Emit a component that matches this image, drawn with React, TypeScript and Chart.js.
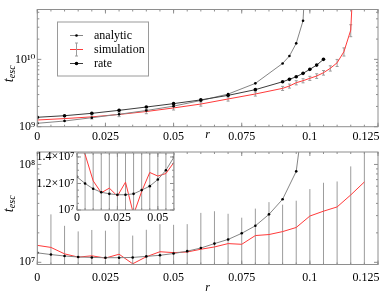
import React, { useEffect, useRef } from 'react';
import { Chart, registerables } from 'chart.js';

Chart.register(...registerables);

const SERIF = "'Liberation Serif', 'Times New Roman', 'DejaVu Serif', serif";

// ---------------- top panel data ----------------
const rTop = [0, 0.01, 0.02, 0.03, 0.04, 0.05, 0.06, 0.07, 0.08, 0.09, 0.0925, 0.095, 0.0975, 0.1, 0.1025, 0.105, 0.1075, 0.11, 0.1125, 0.115, 0.1175];
const analyticTop = [1.123e9, 1.215e9, 1.36e9, 1.53e9, 1.74e9, 2.02e9, 2.45e9, 3.05e9, 4.4e9, 8.7e9, 1.12e10, 1.73e10, 3.74e10, 3.0e12, null, null, null, null, null, null, null];
const rateTop = [1.38e9, 1.456e9, 1.58e9, 1.75e9, 1.96e9, 2.2e9, 2.5e9, 2.92e9, 3.55e9, 4.65e9, 5.05e9, 5.52e9, 6.2e9, 7.11e9, 8.22e9, 1.0e10, null, null, null, null, null];
const simTop = [1.257e9, 1.32e9, 1.4e9, 1.52e9, 1.68e9, 1.9e9, 2.17e9, 2.58e9, 3.06e9, 3.71e9, 4.02e9, 4.5e9, 4.82e9, 5.23e9, 5.66e9, 6.33e9, 7.36e9, 8.9e9, 1.3e10, 2.72e10, 3.0e12];
const simTopErr = [0.09e9, 0.09e9, 0.1e9, 0.11e9, 0.12e9, 0.13e9, 0.15e9, 0.18e9, 0.21e9, 0.26e9, 0.28e9, 0.32e9, 0.34e9, 0.37e9, 0.45e9, 0.5e9, 0.66e9, 1.07e9, 1.8e9, 5.5e9, 0];

// ---------------- bottom panel data ----------------
const rBottom = [0, 0.005, 0.01, 0.015, 0.02, 0.025, 0.03, 0.035, 0.04, 0.045, 0.05, 0.055, 0.06, 0.065, 0.07, 0.075, 0.08, 0.085, 0.09, 0.095, 0.1, 0.105, 0.11, 0.115, 0.12];
const analyticBottom = [1.25e7, 1.2e7, 1.16e7, 1.134e7, 1.122e7, 1.115e7, 1.115e7, 1.122e7, 1.15e7, 1.18e7, 1.23e7, 1.3e7, 1.4e7, 1.553e7, 1.713e7, 1.979e7, 2.36e7, 3.09e7, 4.41e7, 8.5e7, 1.0e9, null, null, null, null];
const simBottom = [1.49e7, 1.42e7, 1.22e7, 1.13e7, 1.165e7, 1.105e7, 1.21e7, 0.966e7, 1.14e7, 1.283e7, 1.256e7, 1.275e7, 1.36e7, 1.436e7, 1.553e7, 1.528e7, 1.877e7, 1.922e7, 2.06e7, 2.27e7, 2.97e7, 3.33e7, 3.68e7, 4.88e7, 6.62e7];
const simBottomErr = [1.51e7, 1.67e7, 1.14e7, 0.94e7, 0.975e7, 1.0e7, 1.44e7, 0.91e7, 1.01e7, 1.17e7, 1.16e7, 1.18e7, 1.84e7, 1.89e7, 1.58e7, 1.33e7, 1.66e7, 2.2e7, 1.82e7, 1.99e7, 2.63e7, 3.17e7, 3.02e7, 4.67e7, 8.4e7];

// ---------------- ticks / labels ----------------
const xTicks = [0, 0.025, 0.05, 0.075, 0.1, 0.125];
const xTickLabels = ['0', '0.025', '0.05', '0.075', '0.1', '0.125'];
const topYTicks = [1e9, 1e10];
const topYLabels = ['10⁹', '10¹⁰'];
const bottomYTicks = [1e7, 1e8];
const bottomYLabels = ['10⁷', '10⁸'];
const insetXTicks = [0, 0.025, 0.05];
const insetXLabels = ['0', '0.025', '0.05'];
const insetYTicks = [1.0e7, 1.2e7, 1.4e7];
const insetYLabels = ['10⁷', '1.2×10⁷', '1.4×10⁷'];
const legendLabels = ['analytic', 'simulation', 'rate'];
const xTitle = 'r';

const COL_ANALYTIC = '#858585';
const COL_RATE = '#3c3c3c';
const COL_SIM = '#ff3a3a';
const COL_ERR = '#9c9c9c';
const COL_FRAME = '#8e8e8e';

type Pt = { x: number; y: number };
const pts = (xs: number[], ys: (number | null)[]): Pt[] =>
  xs.map((x, i) => ({ x, y: ys[i] as number })).filter((p) => p.y !== null && p.y !== undefined);

const range = (a: number, b: number, step: number) => {
  const out: number[] = [];
  for (let v = a; v <= b + step * 1e-6; v += step) out.push(Number(v.toFixed(6)));
  return out;
};

function framePlugin(id: string, xMajor: number[], xMinor: number[], yMajor: number[], yMinor: number[]) {
  return {
    id,
    afterDatasetsDraw(chart: any) {
      const { ctx, chartArea: a, scales } = chart;
      const xs = scales.x;
      const ys = scales.y;
      ctx.save();
      ctx.strokeStyle = COL_FRAME;
      ctx.lineWidth = 1;
      ctx.beginPath();
      const lists: [number[], number][] = [[xMajor, 4], [xMinor, 2]];
      for (const [list, len] of lists) {
        for (const v of list) {
          const p = xs.getPixelForValue(v);
          if (p < a.left - 0.5 || p > a.right + 0.5) continue;
          ctx.moveTo(p, a.bottom);
          ctx.lineTo(p, a.bottom - len);
          ctx.moveTo(p, a.top);
          ctx.lineTo(p, a.top + len);
        }
      }
      const ylists: [number[], number][] = [[yMajor, 4], [yMinor, 2]];
      for (const [list, len] of ylists) {
        for (const v of list) {
          const p = ys.getPixelForValue(v);
          if (p < a.top - 0.5 || p > a.bottom + 0.5) continue;
          ctx.moveTo(a.left, p);
          ctx.lineTo(a.left + len, p);
          ctx.moveTo(a.right, p);
          ctx.lineTo(a.right - len, p);
        }
      }
      ctx.stroke();
      ctx.strokeRect(a.left, a.top, a.right - a.left, a.bottom - a.top);
      ctx.restore();
    },
  };
}

function errorBarPlugin(id: string, rs: number[], vs: (number | null)[], es: number[], cap: number) {
  return {
    id,
    beforeDatasetsDraw(chart: any) {
      const { ctx, chartArea: a, scales } = chart;
      const xs = scales.x;
      const ys = scales.y;
      const isLog = ys.type === 'logarithmic';
      ctx.save();
      ctx.beginPath();
      ctx.rect(a.left, a.top, a.right - a.left, a.bottom - a.top);
      ctx.clip();
      ctx.strokeStyle = COL_ERR;
      ctx.lineWidth = 1;
      ctx.beginPath();
      rs.forEach((r, i) => {
        const v = vs[i];
        const e = es[i];
        if (v === null || v === undefined || !e) return;
        const x = xs.getPixelForValue(r);
        let lo = v - e;
        if (isLog && lo <= 0) lo = ys.min * 0.01;
        const yHi = ys.getPixelForValue(v + e);
        const yLo = ys.getPixelForValue(lo);
        ctx.moveTo(x, yHi);
        ctx.lineTo(x, yLo);
        if (cap > 0) {
          ctx.moveTo(x - cap, yHi);
          ctx.lineTo(x + cap, yHi);
          ctx.moveTo(x - cap, yLo);
          ctx.lineTo(x + cap, yLo);
        }
      });
      ctx.stroke();
      ctx.restore();
    },
  };
}

function yTitlePlugin(id: string, cx: number, cy: number) {
  return {
    id,
    afterDraw(chart: any) {
      const ctx = chart.ctx;
      ctx.save();
      ctx.translate(cx, cy);
      ctx.rotate(-Math.PI / 2);
      ctx.fillStyle = '#000';
      ctx.textAlign = 'left';
      ctx.textBaseline = 'alphabetic';
      const f1 = `italic 14px ${SERIF}`;
      const f2 = `italic 10px ${SERIF}`;
      ctx.font = f1;
      const w1 = ctx.measureText('t').width;
      ctx.font = f2;
      const w2 = ctx.measureText('esc').width;
      const x0 = -(w1 + w2) / 2;
      ctx.font = f1;
      ctx.fillText('t', x0, 4);
      ctx.font = f2;
      ctx.fillText('esc', x0 + w1 + 0.3, 6.5);
      ctx.restore();
    },
  };
}

const legendPlugin = {
  id: 'insideLegend',
  afterDraw(chart: any) {
    const ctx = chart.ctx;
    ctx.save();
    const bx = 57.5, by = 22, bw = 91, bh = 54;
    ctx.fillStyle = '#fff';
    ctx.fillRect(bx, by, bw, bh);
    ctx.strokeStyle = '#9a9a9a';
    ctx.lineWidth = 1;
    ctx.strokeRect(bx, by, bw, bh);
    const rows = [35.5, 49.5, 63.5];
    const s0 = 70, s1 = 83, sm = 76.5;
    ctx.strokeStyle = COL_ANALYTIC;
    ctx.beginPath();
    ctx.moveTo(s0, rows[0]);
    ctx.lineTo(s1, rows[0]);
    ctx.stroke();
    ctx.fillStyle = '#000';
    ctx.beginPath();
    ctx.arc(sm, rows[0], 1.3, 0, Math.PI * 2);
    ctx.fill();
    ctx.strokeStyle = COL_SIM;
    ctx.beginPath();
    ctx.moveTo(s0, rows[1]);
    ctx.lineTo(s1, rows[1]);
    ctx.stroke();
    ctx.strokeStyle = COL_ERR;
    ctx.beginPath();
    ctx.moveTo(sm, rows[1] - 6.5);
    ctx.lineTo(sm, rows[1] + 6.5);
    ctx.moveTo(sm - 1.5, rows[1] - 6.5);
    ctx.lineTo(sm + 1.5, rows[1] - 6.5);
    ctx.moveTo(sm - 1.5, rows[1] + 6.5);
    ctx.lineTo(sm + 1.5, rows[1] + 6.5);
    ctx.stroke();
    ctx.strokeStyle = COL_RATE;
    ctx.beginPath();
    ctx.moveTo(s0, rows[2]);
    ctx.lineTo(s1, rows[2]);
    ctx.stroke();
    ctx.fillStyle = '#000';
    ctx.beginPath();
    ctx.arc(sm, rows[2], 1.8, 0, Math.PI * 2);
    ctx.fill();
    ctx.fillStyle = '#000';
    ctx.font = `12px ${SERIF}`;
    ctx.textAlign = 'left';
    ctx.textBaseline = 'middle';
    legendLabels.forEach((t, i) => ctx.fillText(t, 94, rows[i]));
    ctx.restore();
  },
};

const whiteAreaPlugin = {
  id: 'whiteArea',
  beforeDraw(chart: any) {
    const { ctx, chartArea: a } = chart;
    ctx.save();
    ctx.fillStyle = '#fff';
    ctx.fillRect(a.left, a.top, a.right - a.left, a.bottom - a.top);
    ctx.restore();
  },
};

const tickFont = { family: SERIF, size: 12 };

function xScale(min: number, max: number, ticks: number[], labels: string[], height: number, pad: number, title: any, padLast: boolean) {
  return {
    type: 'linear',
    min,
    max,
    grid: { display: false, drawTicks: false },
    border: { display: false },
    afterBuildTicks: (s: any) => {
      s.ticks = ticks.map((v) => ({ value: v }));
    },
    afterFit: (s: any) => {
      s.height = height;
      s.paddingLeft = 0;
      s.paddingRight = 0;
    },
    ticks: {
      autoSkip: false,
      maxRotation: 0,
      minRotation: 0,
      padding: pad,
      color: '#000',
      font: tickFont,
      callback: (_v: any, i: number) => (padLast && i === labels.length - 1 ? labels[i] + '        ' : labels[i]),
    },
    title,
  };
}

function yScale(type: string, min: number, max: number, ticks: number[], labels: string[], width: number, pad: number) {
  return {
    type,
    min,
    max,
    grid: { display: false, drawTicks: false },
    border: { display: false },
    afterBuildTicks: (s: any) => {
      s.ticks = ticks.map((v) => ({ value: v }));
    },
    afterFit: (s: any) => {
      s.width = width;
      s.paddingTop = 0;
      s.paddingBottom = 0;
    },
    ticks: {
      autoSkip: false,
      padding: pad,
      color: '#000',
      font: tickFont,
      callback: (_v: any, i: number) => labels[i],
    },
  };
}

const baseOpts = {
  animation: false,
  responsive: false,
  maintainAspectRatio: false,
  devicePixelRatio: 1,
  events: [],
  plugins: { legend: { display: false }, tooltip: { enabled: false } },
};

function lineDs(data: Pt[], color: string, radius: number, width = 1) {
  return {
    data,
    borderColor: color,
    borderWidth: width,
    pointRadius: radius,
    pointBackgroundColor: '#000',
    pointBorderWidth: 0,
    tension: 0,
    fill: false,
  };
}

export default function App() {
  const topRef = useRef<HTMLCanvasElement>(null);
  const botRef = useRef<HTMLCanvasElement>(null);
  const insRef = useRef<HTMLCanvasElement>(null);

  useEffect(() => {
    document.body.style.margin = '0';
    const xMinor = range(0, 0.125, 0.005);
    const charts: Chart[] = [];

    charts.push(
      new Chart(topRef.current as HTMLCanvasElement, {
        type: 'line',
        data: {
          datasets: [
            lineDs(pts(rTop, rateTop), COL_RATE, 1.8),
            lineDs(pts(rTop, analyticTop), COL_ANALYTIC, 1.3),
            lineDs(pts(rTop, simTop), COL_SIM, 0),
          ],
        },
        options: {
          ...baseOpts,
          layout: { padding: { top: 9.5, right: 1.3, left: 0, bottom: 0 } },
          scales: {
            x: xScale(0, 0.125, xTicks, xTickLabels, 21.3, 2.6, {
              display: true,
              text: xTitle,
              color: '#000',
              font: { family: SERIF, size: 12, style: 'italic' },
              padding: { top: 0, bottom: 5.8 },
            }, true),
            y: yScale('logarithmic', 1e9, 5.5e10, topYTicks, topYLabels, 37.3, 2),
          },
        } as any,
        plugins: [
          errorBarPlugin('errTop', rTop, simTop, simTopErr, 1.5),
          framePlugin('frameTop', xTicks, xMinor, topYTicks, [2e9, 3e9, 4e9, 5e9, 6e9, 7e9, 8e9, 9e9, 2e10, 3e10, 4e10, 5e10]),
          legendPlugin,
          yTitlePlugin('yTitleTop', 8.5, 74),
        ] as any,
      } as any)
    );

    charts.push(
      new Chart(botRef.current as HTMLCanvasElement, {
        type: 'line',
        data: {
          datasets: [
            lineDs(pts(rBottom, analyticBottom), COL_ANALYTIC, 1.3),
            lineDs(pts(rBottom, simBottom), COL_SIM, 0),
          ],
        },
        options: {
          ...baseOpts,
          layout: { padding: { top: 2, right: 1.3, left: 0, bottom: 0 } },
          scales: {
            x: xScale(0, 0.125, xTicks, xTickLabels, 32.5, 5.8, {
              display: true,
              text: xTitle,
              color: '#000',
              font: { family: SERIF, size: 12, style: 'italic' },
              padding: { top: 0, bottom: 1.5 },
            }, true),
            y: yScale('logarithmic', 0.95e7, 1.34e8, bottomYTicks, bottomYLabels, 37.3, 2),
          },
        } as any,
        plugins: [
          errorBarPlugin('errBot', rBottom, simBottom, simBottomErr, 0),
          framePlugin('frameBot', xTicks, xMinor, bottomYTicks, [2e7, 3e7, 4e7, 5e7, 6e7, 7e7, 8e7, 9e7]),
          yTitlePlugin('yTitleBot', 8.5, 56),
        ] as any,
      } as any)
    );

    charts.push(
      new Chart(insRef.current as HTMLCanvasElement, {
        type: 'line',
        data: {
          datasets: [
            lineDs(pts(rBottom, analyticBottom), COL_ANALYTIC, 1.3),
            lineDs(pts(rBottom, simBottom), COL_SIM, 0),
          ],
        },
        options: {
          ...baseOpts,
          layout: { padding: { top: 5, right: 16, left: 0, bottom: 0 } },
          scales: {
            x: xScale(0, 0.06, insetXTicks, insetXLabels, 18, 0.8, { display: false }, false),
            y: yScale('linear', 1.0e7, 1.43e7, insetYTicks, insetYLabels, 47, 2.5),
          },
        } as any,
        plugins: [
          whiteAreaPlugin,
          errorBarPlugin('errIns', rBottom, simBottom, simBottomErr, 0),
          framePlugin('frameIns', insetXTicks, range(0, 0.06, 0.005), insetYTicks, range(1.0e7, 1.43e7, 0.05e7)),
        ] as any,
      } as any)
    );

    return () => charts.forEach((c) => c.destroy());
  }, []);

  return (
    <div style={{ position: 'absolute', left: 0, top: 0, width: 382, height: 297, background: '#fff', overflow: 'hidden' }}>
      <canvas ref={topRef} width={382} height={148} style={{ position: 'absolute', left: 0, top: 0, width: 382, height: 148 }} />
      <canvas ref={botRef} width={382} height={149} style={{ position: 'absolute', left: 0, top: 148, width: 382, height: 149 }} />
      <canvas ref={insRef} width={160} height={80} style={{ position: 'absolute', left: 30, top: 148, width: 160, height: 80 }} />
    </div>
  );
}
